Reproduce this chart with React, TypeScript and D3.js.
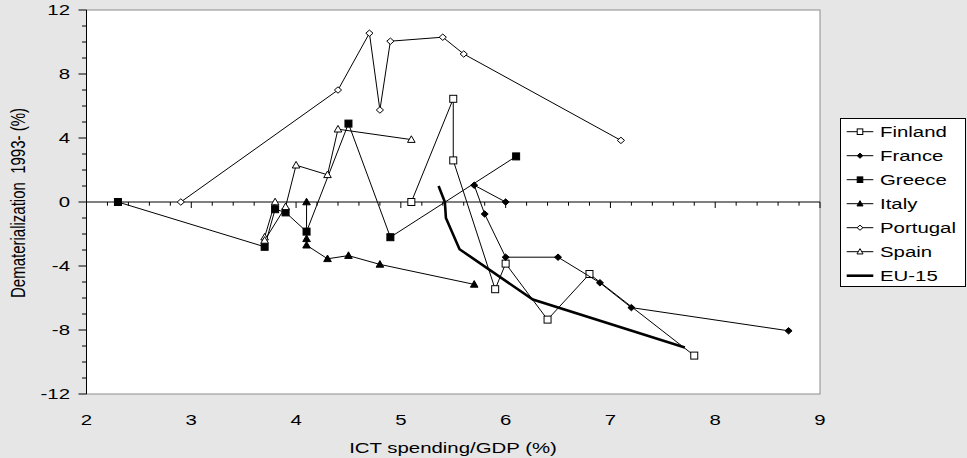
import React from "react";
import * as d3 from "d3";

const finlandX = [5.1, 5.5, 5.5, 5.9, 6.0, 6.4, 6.8, 7.8];
const finlandY = [0, 6.45, 2.6, -5.45, -3.85, -7.35, -4.5, -9.6];
const franceX = [6.0, 5.7, 5.8, 6.0, 6.5, 6.9, 7.2, 8.7];
const franceY = [0, 1.05, -0.75, -3.45, -3.45, -5.05, -6.6, -8.05];
const greeceX = [2.3, 3.7, 3.8, 3.9, 4.1, 4.5, 4.9, 6.1];
const greeceY = [0, -2.8, -0.45, -0.65, -1.85, 4.9, -2.2, 2.85];
const italyX = [4.1, 4.1, 4.1, 4.3, 4.5, 4.8, 5.7];
const italyY = [0, -2.3, -2.7, -3.55, -3.35, -3.9, -5.15];
const portugalX = [2.9, 4.4, 4.7, 4.8, 4.9, 5.4, 5.6, 7.1];
const portugalY = [0, 7.0, 10.55, 5.75, 10.05, 10.3, 9.25, 3.85];
const spainX = [3.8, 3.7, 3.7, 3.9, 4.0, 4.3, 4.4, 5.1];
const spainY = [0, -2.2, -2.4, -0.3, 2.3, 1.7, 4.55, 3.9];
const euX = [5.36, 5.42, 5.43, 5.56, 6.26, 7.71];
const euY = [1.0, 0, -1.0, -2.95, -6.1, -9.1];

const xTicks = [2, 3, 4, 5, 6, 7, 8, 9];
const yTicks = [-12, -8, -4, 0, 4, 8, 12];

type Marker = "openSquare" | "filledDiamond" | "filledSquare" | "filledTriangle" | "openDiamond" | "openTriangle" | "none";

const seriesNames = ["Finland", "France", "Greece", "Italy", "Portugal", "Spain", "EU-15"];
const seriesXs = [finlandX, franceX, greeceX, italyX, portugalX, spainX, euX];
const seriesYs = [finlandY, franceY, greeceY, italyY, portugalY, spainY, euY];
const seriesMarkers: Marker[] = ["openSquare", "filledDiamond", "filledSquare", "filledTriangle", "openDiamond", "openTriangle", "none"];

const W = 967;
const H = 458;
const FONT = "'Liberation Sans', Arial, sans-serif";
const FS = 15;
const SX = 1.36;

function MarkerShape({ kind, x, y, s = 1 }: { kind: Marker; x: number; y: number; s?: number }) {
  const stroke = "#000";
  switch (kind) {
    case "openSquare":
      return <rect x={x - 3.5 * s} y={y - 3.5 * s} width={7 * s} height={7 * s} fill="#fff" stroke={stroke} strokeWidth={1} />;
    case "filledSquare":
      return <rect x={x - 3.5 * s} y={y - 3.5 * s} width={7 * s} height={7 * s} fill="#000" stroke={stroke} strokeWidth={1} />;
    case "filledDiamond":
      return <path d={`M${x},${y - 3.2 * s}L${x + 3.5 * s},${y}L${x},${y + 3.2 * s}L${x - 3.5 * s},${y}Z`} fill="#000" stroke={stroke} strokeWidth={1} />;
    case "openDiamond":
      return <path d={`M${x},${y - 3.2 * s}L${x + 3.6 * s},${y}L${x},${y + 3.2 * s}L${x - 3.6 * s},${y}Z`} fill="#fff" stroke={stroke} strokeWidth={1} />;
    case "filledTriangle":
      return <path d={`M${x},${y - 3.8 * s}L${x + 3.8 * s},${y + 2.8 * s}L${x - 3.8 * s},${y + 2.8 * s}Z`} fill="#000" stroke={stroke} strokeWidth={1} />;
    case "openTriangle":
      return <path d={`M${x},${y - 3.8 * s}L${x + 3.8 * s},${y + 2.8 * s}L${x - 3.8 * s},${y + 2.8 * s}Z`} fill="#fff" stroke={stroke} strokeWidth={1} />;
    default:
      return null;
  }
}

function Txt({ x, y, anchor = "start", children }: { x: number; y: number; anchor?: string; children: React.ReactNode }) {
  return (
    <text transform={`translate(${x},${y}) scale(${SX},1)`} textAnchor={anchor} fontFamily={FONT} fontSize={FS} fill="#000" style={{ whiteSpace: "pre" }}>
      {children}
    </text>
  );
}

export default function App() {
  const x = d3.scaleLinear().domain([2, 9]).range([86.5, 820]);
  const y = d3.scaleLinear().domain([-12, 12]).range([394, 10]);
  const line = d3
    .line<[number, number]>()
    .x((d) => x(d[0]))
    .y((d) => y(d[1]));

  const minorX = d3.range(2, 9.0001, 0.2);
  const minorY = d3.range(-12, 12.0001, 1);

  const legendY0 = 131.7;
  const legendStep = 24;

  return (
    <svg width={W} height={H} style={{ position: "absolute", left: 0, top: 0, display: "block" }}>
      <rect x={0} y={0} width={W} height={H} fill="#e6e6e6" />
      <rect x={x(2)} y={y(12)} width={x(9) - x(2)} height={y(-12) - y(12)} fill="#fff" stroke="#8c8c8c" strokeWidth={1} />

      {/* Y axis */}
      <line x1={x(2)} x2={x(2)} y1={y(12)} y2={y(-12)} stroke="#000" strokeWidth={1} />
      {minorY.map((v) => {
        const major = Math.abs(v % 4) < 1e-6;
        return <line key={"yt" + v} x1={x(2) - (major ? 8 : 4.5)} x2={x(2)} y1={y(v)} y2={y(v)} stroke="#000" strokeWidth={1} />;
      })}
      {yTicks.map((v) => (
        <Txt key={"yl" + v} x={70} y={y(v) + 5.3} anchor="end">
          {String(v)}
        </Txt>
      ))}

      {/* X axis at y = 0 */}
      <line x1={x(2)} x2={x(9)} y1={y(0)} y2={y(0)} stroke="#000" strokeWidth={1} />
      {minorX.map((v, i) => {
        const major = i % 5 === 0;
        return <line key={"xt" + i} x1={x(v)} x2={x(v)} y1={y(0)} y2={y(0) + (major ? 6 : 3.7)} stroke="#000" strokeWidth={1} />;
      })}
      {xTicks.map((v) => (
        <Txt key={"xl" + v} x={x(v)} y={425} anchor="middle">
          {String(v)}
        </Txt>
      ))}

      {/* Series */}
      {seriesNames.map((name, si) => {
        const pts: [number, number][] = seriesXs[si].map((vx, i) => [vx, seriesYs[si][i]]);
        const isEU = name === "EU-15";
        return (
          <g key={name}>
            <path d={line(pts) || ""} fill="none" stroke="#000" strokeWidth={isEU ? 2.6 : 1} strokeLinejoin="miter" />
            {pts.map((p, i) => (
              <MarkerShape key={i} kind={seriesMarkers[si]} x={x(p[0])} y={y(p[1])} />
            ))}
          </g>
        );
      })}

      {/* Axis titles */}
      <Txt x={453} y={453} anchor="middle">
        ICT spending/GDP (%)
      </Txt>
      <text
        transform={`translate(25,203) scale(${SX},1) rotate(-90)`}
        textAnchor="middle"
        fontFamily={FONT}
        fontSize={FS}
        fill="#000"
        style={{ whiteSpace: "pre" }}
      >
        {"Dematerialization  1993- (%)"}
      </text>

      {/* Legend */}
      <rect x={840.5} y={118.5} width={125} height={168} fill="#fff" stroke="#000" strokeWidth={1} />
      {seriesNames.map((name, si) => {
        const ly = legendY0 + si * legendStep;
        const isEU = name === "EU-15";
        return (
          <g key={"lg" + name}>
            <line x1={846.7} x2={873.3} y1={ly} y2={ly} stroke="#000" strokeWidth={isEU ? 2.6 : 1} />
            <MarkerShape kind={seriesMarkers[si]} x={860} y={ly} s={0.8} />
            <Txt x={880} y={ly + 5.3}>
              {name}
            </Txt>
          </g>
        );
      })}
    </svg>
  );
}
